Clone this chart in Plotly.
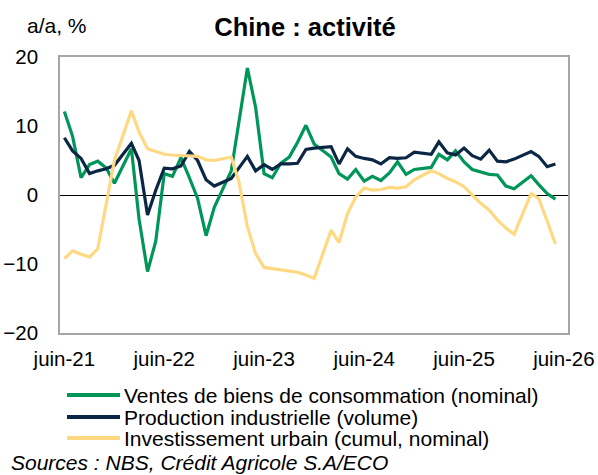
import pandas as pd
import plotly.graph_objects as go

# Monthly data, juin-21 .. mai-26 (January values not published -> None)
months = pd.date_range("2021-06-01", periods=60, freq="MS")

ventes = [12.1, 8.5, 2.5, 4.4, 4.9, 3.9, 1.7, None, 6.7, -3.5, -11.1, -6.7,
          3.1, 2.7, 5.4, 2.5, -0.5, -5.9, -1.8, None, 3.5, 10.6, 18.4, 12.7,
          3.1, 2.5, 4.6, 5.5, 7.6, 10.1, 7.4, None, 5.5, 3.1, 2.3, 3.7,
          2.0, 2.7, 2.1, 3.2, 4.8, 3.0, 3.7, None, 4.0, 5.9, 5.1, 6.4,
          4.8, 3.7, 3.4, 3.0, 2.9, 1.3, 0.9, None, 2.8, 1.5, 0.2, -0.6]

production = [8.3, 6.4, 5.3, 3.1, 3.5, 3.8, 4.3, None, 7.5, 5.0, -2.9, 0.7,
              3.9, 3.8, 4.2, 6.3, 5.0, 2.2, 1.3, None, 2.4, 3.9, 5.6, 3.5,
              4.4, 3.7, 4.5, 4.5, 4.6, 6.6, 6.8, None, 7.0, 4.5, 6.7, 5.6,
              5.3, 5.1, 4.5, 5.4, 5.3, 5.4, 6.2, None, 5.9, 7.7, 6.1, 5.8,
              6.8, 5.7, 5.2, 6.5, 4.9, 4.8, 5.2, None, 6.3, 5.6, 4.1, 4.5]

investissement = [-9.2, -8.1, -8.6, -9.0, -7.8, -1.5, 5.0, None, 12.2, 9.1, 6.7, 6.3,
                  5.9, 5.8, 5.7, 5.7, 5.6, 5.1, 5.0, None, 5.5, 1.9, -4.6, -8.5,
                  -10.5, -10.7, -10.9, -11.0, -11.2, -11.6, -12.1, None, -5.1, -6.9, -2.7, -0.3,
                  1.0, 0.7, 0.8, 1.1, 1.0, 1.2, 2.2, None, 3.5, 3.1, 2.4, 1.9,
                  1.2, 0.0, -1.2, -2.2, -3.6, -4.8, -5.7, None, 0.2, -0.5, -3.8, -7.1]

tick_dates = ["2021-06-01", "2022-06-01", "2023-06-01", "2024-06-01", "2025-06-01", "2026-06-01"]
tick_labels = ["juin-21", "juin-22", "juin-23", "juin-24", "juin-25", "juin-26"]
y_ticks = [20, 10, 0, -10, -20]

series_names = ["Ventes de biens de consommation (nominal)",
                "Production industrielle (volume)",
                "Investissement urbain (cumul, nominal)"]
colors = ["#00965A", "#0C2746", "#FFD982"]

FONT = "Arial, Liberation Sans, sans-serif"
FS_TICK = 20.5
FS_TEXT = 21

W, H = 598, 475
L, R, T, B = 60, 30, 57, 142
PW, PH = W - L - R, H - T - B


def px(fx):
    return (fx - L) / PW


def py(fy):
    return (H - B - fy) / PH


fig = go.Figure()
for name, vals, col in zip(series_names, [ventes, production, investissement], colors):
    fig.add_trace(go.Scatter(x=months, y=vals, name=name, mode="lines",
                             connectgaps=True, showlegend=False,
                             line=dict(color=col, width=3.2)))

fig.update_layout(
    width=W, height=H,
    paper_bgcolor="white", plot_bgcolor="white",
    margin=dict(l=L, r=R, t=T, b=B, autoexpand=False),
    font=dict(family=FONT, size=FS_TEXT, color="black"),
    title=dict(text="<b>Chine : activité</b>", x=305 / W, xanchor="center",
               y=1 - 27 / H, yanchor="middle",
               font=dict(family=FONT, size=25.5, color="black")),
    showlegend=False,
)

fig.update_xaxes(
    type="date", automargin=False,
    range=["2021-05-16", "2026-06-16"],
    tickvals=tick_dates, ticktext=tick_labels,
    showgrid=False, zeroline=False,
    showline=True, linecolor="#A6A6A6", linewidth=1.5, mirror=True,
    ticks="", ticklabelstandoff=7,
    tickfont=dict(family=FONT, size=FS_TICK),
)
fig.update_yaxes(
    range=[-20, 20], tickvals=y_ticks, automargin=False,
    showgrid=False,
    zeroline=True, zerolinecolor="black", zerolinewidth=1.3,
    showline=True, linecolor="#A6A6A6", linewidth=1.5, mirror=True,
    ticks="", ticklabelstandoff=16,
    tickfont=dict(family=FONT, size=FS_TICK),
)

# unit label
fig.add_annotation(text="a/a, %", xref="paper", yref="paper",
                   x=px(57), y=py(26), xanchor="center", yanchor="middle",
                   showarrow=False, font=dict(family=FONT, size=FS_TEXT))

# legend (drawn as line samples + labels)
legend_rows_y = [395, 417, 438]
for name, col, fy in zip(series_names, colors, legend_rows_y):
    fig.add_shape(type="line", xref="paper", yref="paper",
                  x0=px(67), x1=px(120), y0=py(fy), y1=py(fy),
                  line=dict(color=col, width=4))
    fig.add_annotation(text=name, xref="paper", yref="paper",
                       x=px(122), y=py(fy), xanchor="left", yanchor="middle",
                       showarrow=False, font=dict(family=FONT, size=FS_TEXT))

fig.add_annotation(text="<i>Sources : NBS, Crédit Agricole S.A/ECO</i>",
                   xref="paper", yref="paper",
                   x=px(9), y=py(463), xanchor="left", yanchor="middle",
                   showarrow=False, font=dict(family=FONT, size=FS_TEXT))

fig.write_html(
    "out.html",
    config={"displayModeBar": False},
    post_script="document.body.style.margin='0';document.body.style.overflow='hidden';",
)
